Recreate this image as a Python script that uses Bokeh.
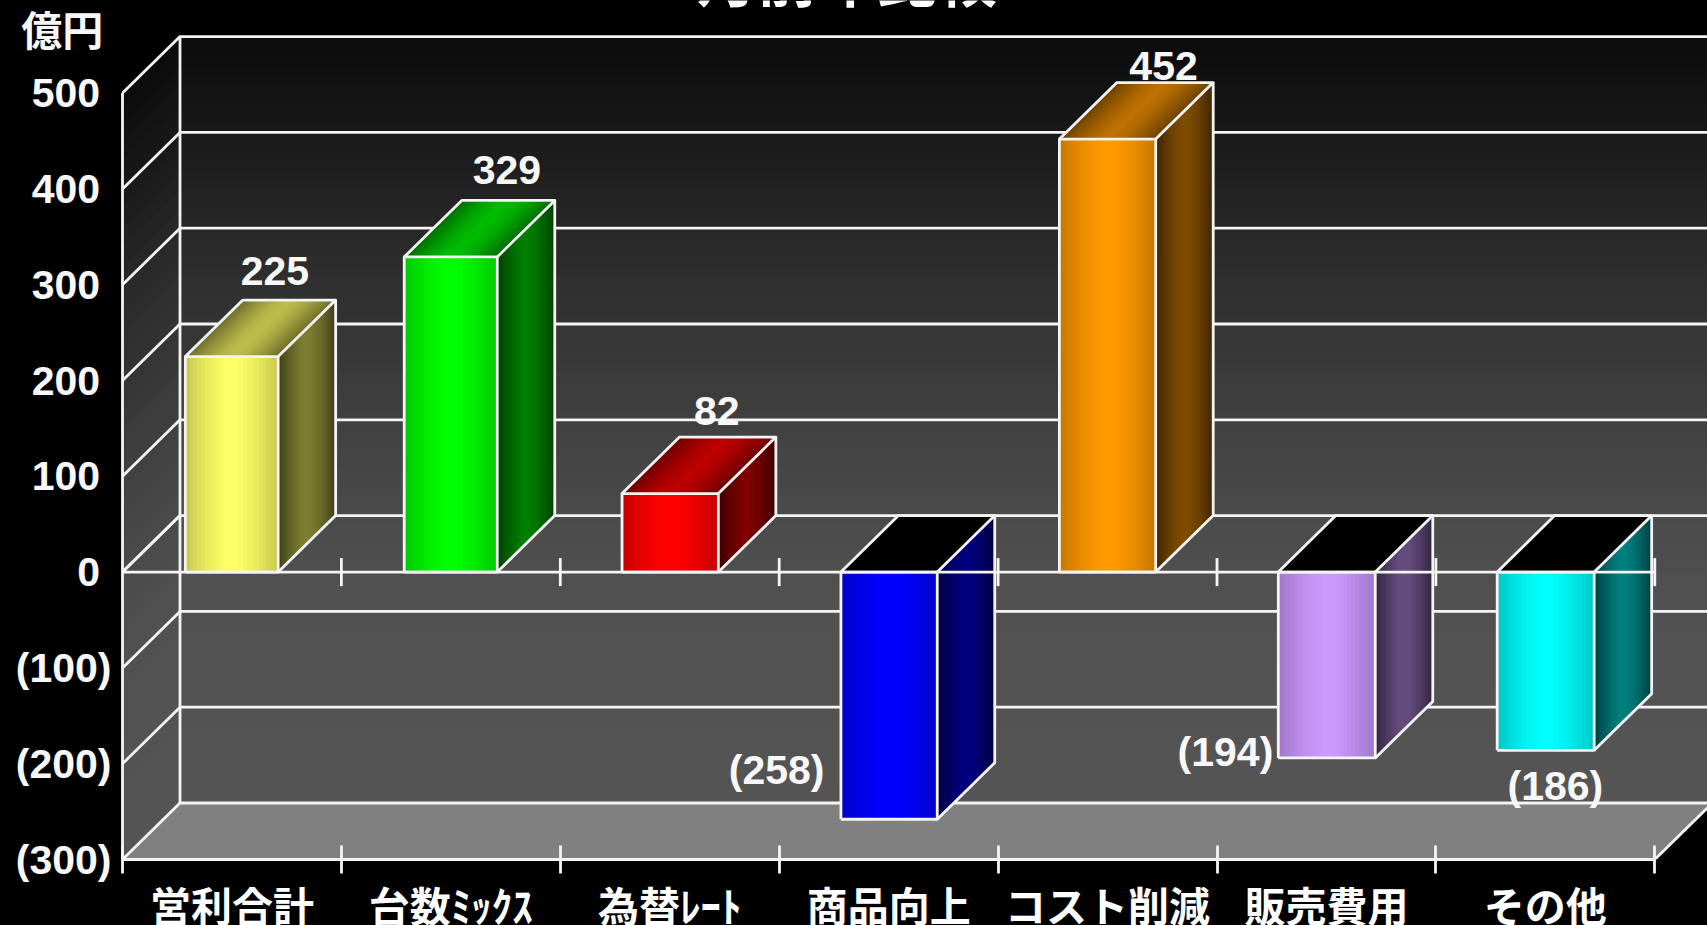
from bokeh.plotting import figure
from bokeh.embed import file_html
from bokeh.resources import INLINE
from bokeh.core.properties import value
from bokeh.models import Range1d, LinearAxis, FixedTicker, GlobalInlineStyleSheet

categories = ["営利合計", "台数ﾐｯｸｽ", "為替ﾚｰﾄ", "商品向上", "コスト削減", "販売費用", "その他"]
values = [225, 329, 82, -258, 452, -194, -186]
colors = ["#FFFF66", "#00FF00", "#FF0000", "#0000FF", "#FF9900", "#CC99FF", "#00FFFF"]
value_labels = ["225", "329", "82", "(258)", "452", "(194)", "(186)"]
y_ticks = [-300, -200, -100, 0, 100, 200, 300, 400, 500]
y_tick_labels = ["(300)", "(200)", "(100)", "0\u00a0", "100\u00a0", "200\u00a0", "300\u00a0", "400\u00a0", "500\u00a0"]
title_text = "月前年比較"
unit_text = "億円\u2009"
unit_tick = 564

W, H = 1707, 925
L, B = 120, 66
LEFT_PAD = 2
PX_X = 218.9
PX_Y = 0.958
DX = 57.5 / PX_X
DY = 56.5 / PX_Y
BAR_WS = [.424, .425, .44, .44, .44, .443, .443]
BAR_LS = [.287, .287, .282, .282, .28, .28, .28]
X_START = -LEFT_PAD / PX_X
X_END = X_START + (W - L) / PX_X
Y_START = -300
Y_END = Y_START + (H - B) / PX_Y
LAB_OFF_X = [43, 56, 47, -112, 56, -101, 10]
LAB_OFF_Y = [-86, -87, -83, -49, -73, -6, 36]
NUM_FONT = "Liberation Sans"
CJK_FONT = "Noto Sans CJK JP"
WALL_STOPS = [(-300, 0x55), (-100, 0x51), (0, 0x4b), (100, 0x40), (200, 0x34), (300, 0x28), (400, 0x19), (500, 0x0b)]

p = figure(width=W, height=H, frame_width=W - L, frame_height=H - B,
           output_backend="svg", toolbar_location=None,
           x_range=Range1d(X_START, X_END), y_range=Range1d(Y_START, Y_END),
           x_axis_type=None, y_axis_type=None,
           background_fill_color="black", border_fill_color="black",
           min_border_left=L, min_border_right=0, min_border_top=0, min_border_bottom=B)
p.outline_line_color = None
p.grid.visible = False
p.stylesheets = [GlobalInlineStyleSheet(css="html,body{margin:0;padding:0;background:#000;overflow:hidden}")]


def mix(hexcol, f):
    r, g, b = int(hexcol[1:3], 16), int(hexcol[3:5], 16), int(hexcol[5:7], 16)
    return "#%02x%02x%02x" % (round(r * f), round(g * f), round(b * f))


def shade(t, edge, mid):
    d = abs(2 * t - 1)
    return mid + (edge - mid) * d ** 1.5


def wall_shade(y):
    for (y0, g0), (y1, g1) in zip(WALL_STOPS, WALL_STOPS[1:]):
        if y <= y1:
            return g0 + (g1 - g0) * (y - y0) / (y1 - y0)
    return WALL_STOPS[-1][1]


# walls (vertical gradient, dark at the top); each strip overlaps the next
N = 80
ymin, ymax = -300, 500
wall_x, wall_y, wall_c = [], [], []
for i in range(N):
    a = ymin + (ymax - ymin) * i / N
    b = ymin + (ymax - ymin) * (i + 1) / N
    g = wall_shade((a + b) / 2)
    col = "#%02x%02x%02x" % (round(g), round(g), round(g))
    bb = min(b + 4, ymax)
    wall_x.append([0, DX, DX, 0])
    wall_y.append([a, a + DY, bb + DY, bb])
    wall_c.append(col)
    wall_x.append([DX, X_END + 1, X_END + 1, DX])
    wall_y.append([a + DY, a + DY, bb + DY, bb + DY])
    wall_c.append(col)
p.patches(wall_x, wall_y, fill_color=wall_c, line_color=None)

# floor
p.patch([0, 7, 7 + DX, DX], [ymin, ymin, ymin + DY, ymin + DY], fill_color="#808080", line_color=None)

GRID = dict(line_color="#f4f4f4", line_width=2.8)
# gridlines on the back wall and the side wall
for t in y_ticks:
    p.line([0, DX, X_END], [t, t + DY, t + DY], **GRID)
p.line([DX, DX], [ymin + DY, ymax + DY], **GRID)
p.line([0, 0], [ymin, ymax], **GRID)
p.line([7, 7 + DX], [ymin, ymin + DY], **GRID)

# bars
S = 24
EXT = 1.6 / S
for i, (v, c) in enumerate(zip(values, colors)):
    bw = BAR_WS[i]
    x0 = i + BAR_LS[i]
    x1 = x0 + bw
    ytop = max(v, 0)
    ybot = min(v, 0)
    # side face
    xs, ys, cs = [], [], []
    for k in range(S):
        t0, t1 = k / S, min((k + 1) / S + EXT, 1)
        xs.append([x1 + DX * t0, x1 + DX * t1, x1 + DX * t1, x1 + DX * t0])
        ys.append([ybot + DY * t0, ybot + DY * t1, ytop + DY * t1, ytop + DY * t0])
        cs.append(mix(c, shade((k + .5) / S, .24, .5)))
    p.patches(xs, ys, fill_color=cs, line_color=None)
    # top face
    if v >= 0:
        xs, ys, cs = [], [], []
        for k in range(S):
            t0, t1 = k / S, min((k + 1) / S + EXT, 1)
            xs.append([x0 + bw * t0, x0 + bw * t1, x0 + bw * t1 + DX, x0 + bw * t0 + DX])
            ys.append([ytop, ytop, ytop + DY, ytop + DY])
            cs.append(mix(c, shade((k + .5) / S, .42, .74)))
        p.patches(xs, ys, fill_color=cs, line_color=None)
    else:
        p.patch([x0, x1, x1 + DX, x0 + DX], [0, 0, DY, DY], fill_color="black", line_color=None)
    # front face
    xs, ys, cs = [], [], []
    for k in range(S):
        t0, t1 = k / S, min((k + 1) / S + EXT, 1)
        xs.append([x0 + bw * t0, x0 + bw * t1, x0 + bw * t1, x0 + bw * t0])
        ys.append([ybot, ybot, ytop, ytop])
        cs.append(mix(c, shade((k + .5) / S, .78, 1)))
    p.patches(xs, ys, fill_color=cs, line_color=None)
    # outline
    OUT = dict(line_color="#f4f4f4", line_width=2.8, line_join="round")
    p.line([x0, x1, x1, x0, x0], [ybot, ybot, ytop, ytop, ybot], **OUT)
    p.line([x0, x0 + DX, x1 + DX, x1], [ytop, ytop + DY, ytop + DY, ytop], **OUT)
    p.line([x1 + DX, x1 + DX, x1], [ytop + DY, ybot + DY, ybot], **OUT)

# front line of the zero plane with its ticks
p.line([0, 7], [0, 0], **GRID)
p.line([0, DX], [0, DY], **GRID)
TICK = 14 / PX_Y
p.segment(x0=list(range(1, 8)), y0=[-TICK] * 7, x1=list(range(1, 8)), y1=[TICK] * 7, **GRID)

# value labels
p.text(x=[i + .5 for i in range(7)], y=values, text=value_labels,
       x_offset=LAB_OFF_X, y_offset=LAB_OFF_Y,
       text_color="#f8f8f8", text_font=value(NUM_FONT), text_font_style="bold",
       text_font_size="41px", text_align="center", text_baseline="middle")

# title, cut by the top of the page
p.text(x=[3.31], y=[Y_END - 0.5], y_offset=[-25], text=[title_text], text_color="white",
       text_font=value(CJK_FONT), text_font_style="bold", text_font_size="60px",
       text_align="center", text_baseline="alphabetic")

# axes
y_labels = dict(zip(y_ticks, y_tick_labels))
y_labels[unit_tick] = unit_text
yax = LinearAxis(ticker=FixedTicker(ticks=y_ticks + [unit_tick]),
                 major_label_overrides=y_labels,
                 major_tick_line_color=None, minor_tick_line_color=None,
                 axis_line_color=None,
                 major_label_text_color="#f8f8f8",
                 major_label_text_font="'Liberation Sans', 'Noto Sans CJK JP'",
                 major_label_text_font_style="bold", major_label_text_font_size="41px",
                 major_label_standoff=3)
p.add_layout(yax, "left")

centers = [i + .5 for i in range(7)]
xax = LinearAxis(ticker=FixedTicker(ticks=centers, minor_ticks=list(range(8))), bounds=(0, 7),
                 major_label_overrides=dict(zip(centers, categories)),
                 major_tick_line_color=None,
                 minor_tick_line_color="#f4f4f4", minor_tick_line_width=2.8,
                 minor_tick_in=14, minor_tick_out=14,
                 axis_line_color="#f4f4f4", axis_line_width=2.8,
                 major_label_text_color="white", major_label_text_font=CJK_FONT,
                 major_label_text_font_style="bold", major_label_text_font_size="41px",
                 major_label_standoff=0)
p.add_layout(xax, "below")

open("out.html", "w").write(file_html(p, INLINE))
